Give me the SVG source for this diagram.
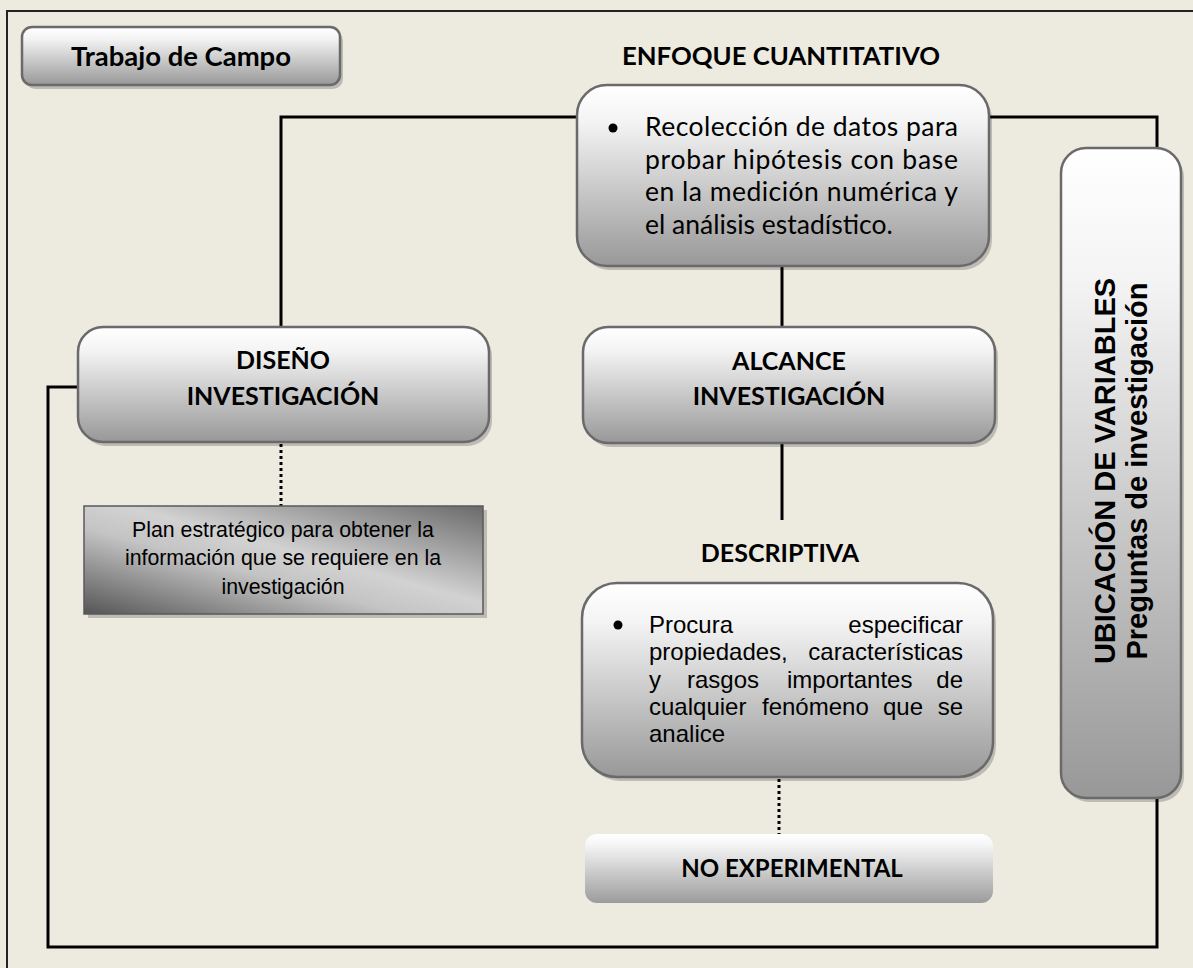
<svg xmlns="http://www.w3.org/2000/svg" width="1193" height="968" viewBox="0 0 1193 968">
<defs>
<linearGradient id="gv" x1="0" y1="0" x2="0" y2="1">
<stop offset="0" stop-color="#ffffff"/>
<stop offset="0.2" stop-color="#f4f4f4"/>
<stop offset="1" stop-color="#989898"/>
</linearGradient>
<linearGradient id="gn" x1="0" y1="0" x2="0" y2="1">
<stop offset="0" stop-color="#ffffff"/>
<stop offset="0.15" stop-color="#f6f6f6"/>
<stop offset="1" stop-color="#9c9c9c"/>
</linearGradient>
<linearGradient id="gp" x1="1" y1="0" x2="0" y2="1">
<stop offset="0" stop-color="#6a6a6a"/>
<stop offset="0.45" stop-color="#d2d2d2"/>
<stop offset="0.6" stop-color="#c4c4c4"/>
<stop offset="1" stop-color="#555555"/>
</linearGradient>
<style>
.box{fill:url(#gv);stroke:#6a6a6a;stroke-width:2.5}
.sh{fill:#000;opacity:0.2}
.h{font-family:Lato,"Liberation Sans",sans-serif;font-weight:700;fill:#000;text-anchor:middle}
.b{font-family:Lato,"Liberation Sans",sans-serif;font-size:26.5px;fill:#000}
.a{font-family:"Liberation Sans",Arial,sans-serif;fill:#000}
.ln{fill:none;stroke:#000;stroke-width:3}
.dot{fill:none;stroke:#000;stroke-width:3;stroke-dasharray:3 3}
</style>
</defs>
<rect x="0" y="0" width="1193" height="968" fill="#edeae0"/>
<rect x="7" y="11" width="1220" height="1000" fill="none" stroke="#222" stroke-width="2"/>

<g id="connectors">
<path class="ln" d="M577,117 H281 V327"/>
<path class="ln" d="M990,117 H1157 V148"/>
<path class="ln" d="M782,266 V327"/>
<path class="ln" d="M782,443 V520"/>
<path class="ln" d="M78,387 H48 V947 H1157 V798"/>
<path class="dot" d="M281,444 V506"/>
<path class="dot" d="M779,779 V834"/>
</g>

<g id="trabajo">
<rect class="sh" x="25" y="31" width="318" height="58" rx="10"/>
<rect class="box" x="22" y="27" width="318" height="58" rx="10"/>
<text class="h" x="181" y="66" font-size="27" textLength="220" lengthAdjust="spacingAndGlyphs">Trabajo de Campo</text>
</g>

<g id="enfoque">
<text class="h" x="781" y="65" font-size="25" textLength="318" lengthAdjust="spacingAndGlyphs">ENFOQUE CUANTITATIVO</text>
</g>

<g id="recoleccion">
<rect class="sh" x="580" y="89" width="412" height="181" rx="30"/>
<rect class="box" x="577" y="85" width="412" height="181" rx="30"/>
<circle cx="613" cy="128" r="4.5" fill="#000"/>
<text class="b" x="645" y="136" textLength="313" lengthAdjust="spacing">Recolección de datos para</text>
<text class="b" x="645" y="169" textLength="313" lengthAdjust="spacing">probar hipótesis con base</text>
<text class="b" x="645" y="201" textLength="313" lengthAdjust="spacing">en la medición numérica y</text>
<text class="b" x="645" y="234">el análisis estadístico.</text>
</g>

<g id="diseno">
<rect class="sh" x="81" y="331" width="411" height="115" rx="25"/>
<rect class="box" x="78" y="327" width="411" height="115" rx="25"/>
<text class="h" x="283" y="369" font-size="25">DISEÑO</text>
<text class="h" x="283" y="405" font-size="25">INVESTIGACIÓN</text>
</g>

<g id="plan">
<rect class="sh" x="88" y="510" width="399" height="108"/>
<rect x="84" y="506" width="399" height="108" fill="url(#gp)" stroke="#5a5a5a" stroke-width="1.5"/>
<text class="a" x="283" y="537" font-size="21.3" text-anchor="middle">Plan estratégico para obtener la</text>
<text class="a" x="283" y="565" font-size="21.3" text-anchor="middle">información que se requiere en la</text>
<text class="a" x="283" y="594" font-size="21.3" text-anchor="middle">investigación</text>
</g>

<g id="alcance">
<rect class="sh" x="586" y="331" width="412" height="116" rx="25"/>
<rect class="box" x="583" y="327" width="412" height="116" rx="25"/>
<text class="h" x="789" y="370" font-size="25">ALCANCE</text>
<text class="h" x="789" y="405" font-size="25">INVESTIGACIÓN</text>
</g>

<g id="descriptiva-title">
<text class="h" x="780" y="562" font-size="25">DESCRIPTIVA</text>
</g>

<g id="descriptiva">
<rect class="sh" x="585" y="587" width="411" height="194" rx="35"/>
<rect class="box" x="582" y="583" width="411" height="194" rx="35"/>
<circle cx="618" cy="625" r="4.5" fill="#000"/>
<g class="a" font-size="24">
<text x="649" y="633">Procura</text>
<text x="963" y="633" text-anchor="end">especificar</text>
<text x="649" y="660">propiedades,</text>
<text x="963" y="660" text-anchor="end">características</text>
<text x="649" y="688">y</text>
<text x="687" y="688">rasgos</text>
<text x="787" y="688">importantes</text>
<text x="963" y="688" text-anchor="end">de</text>
<text x="649" y="715">cualquier</text>
<text x="762" y="715">fenómeno</text>
<text x="883" y="715">que</text>
<text x="963" y="715" text-anchor="end">se</text>
<text x="649" y="742">analice</text>
</g>
</g>

<g id="noexperimental">
<rect x="585" y="834" width="408" height="69" rx="12" fill="url(#gn)"/>
<text class="h" x="792" y="877" font-size="24">NO EXPERIMENTAL</text>
</g>

<g id="ubicacion">
<rect class="sh" x="1064" y="152" width="120" height="650" rx="25"/>
<rect class="box" x="1061" y="148" width="120" height="650" rx="25"/>
<text class="a" font-size="29" font-weight="700" text-anchor="middle" transform="translate(1115,471) rotate(-90)">UBICACIÓN DE VARIABLES</text>
<text class="a" font-size="29" font-weight="700" text-anchor="middle" transform="translate(1147,471) rotate(-90)">Preguntas de investigación</text>
</g>
</svg>
